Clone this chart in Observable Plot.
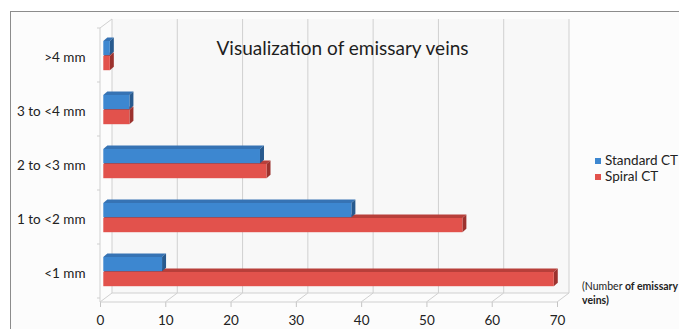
<!DOCTYPE html>
<html>
<head>
<meta charset="utf-8">
<script src="https://cdn.jsdelivr.net/npm/d3@7"></script>
<script src="https://cdn.jsdelivr.net/npm/@observablehq/plot@0.6"></script>
<style>
  body { margin: 0; background: #fff; }
  #chart { position: relative; width: 679px; height: 329px; overflow: hidden; font-family: Lato, "Open Sans", sans-serif; color: #222; }
  #border { position: absolute; left: 10px; top: 11px; width: 720px; height: 360px; border-left: 1.5px solid #8c8c8c; border-top: 1.5px solid #8c8c8c; background: #fcfcfc; }
  #chart svg { position: absolute; left: 0; top: 0; overflow: visible; }
  [aria-label="x-axis tick"] { stroke: #c4c4c4; }
  .legend { position: absolute; left: 595px; top: 153px; font-size: 13.5px; line-height: 15.5px; }
  .legend .sw { display: inline-block; width: 6px; height: 6px; margin-right: 4px; vertical-align: 1px; }
  .note { position: absolute; left: 582px; top: 279px; font-size: 10.5px; line-height: 14px; white-space: nowrap; color: #222; }
  .note b { font-weight: 700; }
</style>
</head>
<body>
<div id="chart">
  <div id="border"></div>
</div>
<script>
// Emissary vein counts by diameter class, standard vs spiral CT
const categories = [">4 mm", "3 to <4 mm", "2 to <3 mm", "1 to <2 mm", "<1 mm"];
const seriesNames = ["Standard CT", "Spiral CT"];
const standardCT = [1, 4, 24, 38, 9];
const spiralCT = [1, 4, 25, 55, 69];
const xTicks = [0, 10, 20, 30, 40, 50, 60, 70];
const title = "Visualization of emissary veins";

const rows = categories.flatMap((category, i) => [
  {category, series: seriesNames[0], value: standardCT[i]},
  {category, series: seriesNames[1], value: spiralCT[i]}
]);

// face colours: front, top, side
const palette = {
  "Standard CT": {front: "#3d87d0", top: "#3673b4", side: "#285a8e"},
  "Spiral CT":   {front: "#e2524c", top: "#b83f3a", side: "#9c322e"}
};

// pseudo-3D geometry (pixels)
const frontShift = 3.3;          // bar front face sits slightly into the depth
const depthX = 4, depthY = 3.5;  // bar depth projection
const wallX = 12, wallY = 9;     // back wall offset
const slot = {"Standard CT": {top: 11, bottom: 28.8}, "Spiral CT": {top: 26, bottom: 13.8}};

function bandwidthOf(scale, dims) {
  if (scale && typeof scale.bandwidth === "function") return scale.bandwidth();
  return (dims.height - dims.marginTop - dims.marginBottom) / categories.length;
}

// back wall, floor and left wall of the 3D frame
function walls(index, scales, values, dims) {
  const yTop = dims.marginTop, yBot = dims.height - dims.marginBottom;
  const bw = bandwidthOf(scales.y, dims);
  const g = d3.create("svg:g").attr("fill", "none").attr("stroke", "#d0d0d0").attr("stroke-width", 1);
  const x0 = scales.x(xTicks[0]), xN = scales.x(xTicks[xTicks.length - 1]);
  g.append("path").attr("fill", "#f8f8f8").attr("stroke", "none")
    .attr("d", `M${x0 + wallX},${yTop - wallY}H${xN + wallX}V${yBot - wallY}H${x0 + wallX}Z`);
  for (const t of xTicks) {
    const x = scales.x(t);
    g.append("line").attr("x1", x + wallX).attr("y1", yTop - wallY).attr("x2", x + wallX).attr("y2", yBot - wallY);
    g.append("line").attr("x1", x).attr("y1", yBot).attr("x2", x + wallX).attr("y2", yBot - wallY);
  }
  g.append("line").attr("x1", x0).attr("y1", yBot).attr("x2", xN).attr("y2", yBot);
  g.append("line").attr("x1", x0 + wallX).attr("y1", yBot - wallY).attr("x2", xN + wallX).attr("y2", yBot - wallY);
  g.append("line").attr("x1", x0).attr("y1", yTop).attr("x2", x0).attr("y2", yBot);
  g.append("line").attr("x1", x0).attr("y1", yTop).attr("x2", x0 + wallX).attr("y2", yTop - wallY);
  for (let i = 0; i <= categories.length; i++) {
    const y = yTop + i * bw;
    g.append("line").attr("x1", x0 - 3).attr("y1", y).attr("x2", x0).attr("y2", y);
  }
  return g.node();
}

// top and side faces of each bar of one series
function faces(series) {
  return (index, scales, values, dims) => {
    const g = d3.create("svg:g");
    const c = palette[series];
    const bw = bandwidthOf(scales.y, dims);
    for (const r of rows.filter(d => d.series === series)) {
      const y0 = scales.y(r.category) + slot[series].top;
      const y1 = scales.y(r.category) + bw - slot[series].bottom;
      const xa = scales.x(0) + frontShift, xb = scales.x(r.value) + frontShift;
      g.append("path").attr("fill", c.top)
        .attr("d", `M${xa},${y0}L${xa + depthX},${y0 - depthY}H${xb + depthX}L${xb},${y0}Z`);
      g.append("path").attr("fill", c.side)
        .attr("d", `M${xb},${y0}L${xb + depthX},${y0 - depthY}V${y1 - depthY}L${xb},${y1}Z`);
    }
    return g.node();
  };
}

function front(series) {
  return Plot.barX(rows.filter(d => d.series === series), {
    x: "value", y: "category",
    fill: palette[series].front,
    insetTop: slot[series].top, insetBottom: slot[series].bottom,
    dx: frontShift
  });
}

const plot = Plot.plot({
  width: 679,
  height: 329,
  marginLeft: 100,
  marginRight: 122,
  marginTop: 28,
  marginBottom: 27,
  style: {fontFamily: "Lato, 'Open Sans', sans-serif", fontSize: "13.5px", color: "#222", background: "transparent", overflow: "visible"},
  x: {domain: [0, 70], ticks: xTicks, tickSize: 5, tickPadding: 8, label: null},
  y: {domain: categories, padding: 0, tickSize: 0, tickPadding: 15, label: null},
  marks: [
    walls,
    faces("Spiral CT"),
    front("Spiral CT"),
    faces("Standard CT"),
    front("Standard CT"),
    Plot.text([title], {frameAnchor: "top", dx: 13.5, dy: 13, fontSize: 19, fill: "#1e1e1e"})
  ]
});

const chart = document.getElementById("chart");
chart.appendChild(plot);

const legend = document.createElement("div");
legend.className = "legend";
for (const s of seriesNames) {
  const row = document.createElement("div");
  const sw = document.createElement("span");
  sw.className = "sw";
  sw.style.background = palette[s].front;
  row.appendChild(sw);
  row.appendChild(document.createTextNode(s));
  legend.appendChild(row);
}
chart.appendChild(legend);

const note = document.createElement("div");
note.className = "note";
note.innerHTML = "(Number <b>of emissary</b><br><b>veins)</b>";
chart.appendChild(note);
</script>
</body>
</html>
